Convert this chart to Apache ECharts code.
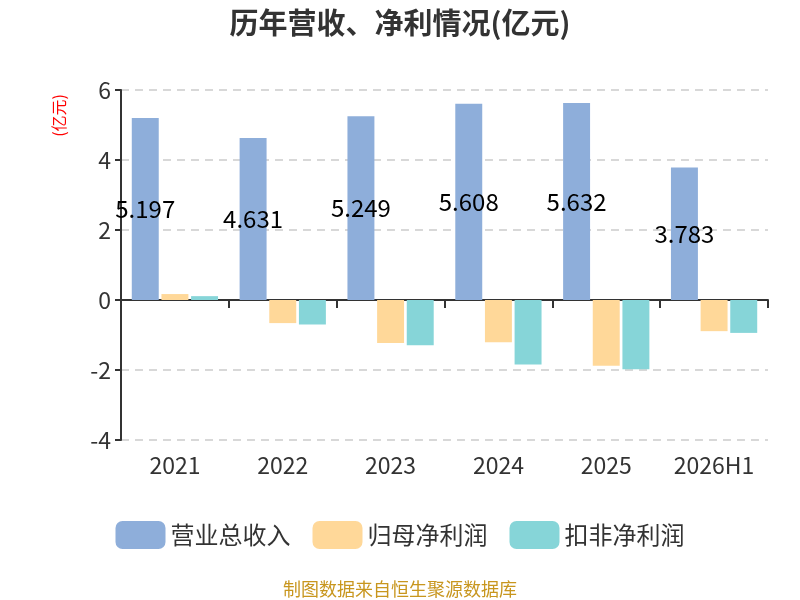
<!DOCTYPE html>
<html>
<head>
<meta charset="utf-8">
<script src="https://cdn.jsdelivr.net/npm/echarts@6/dist/echarts.min.js"></script>
<style>
  html, body { margin: 0; padding: 0; background: #fff; }
  #main { width: 800px; height: 600px; }
</style>
</head>
<body>
<div id="main"></div>
<script>
  let years = ['2021', '2022', '2023', '2024', '2025', '2026H1']
  let revenue = [5.197, 4.631, 5.249, 5.608, 5.632, 3.783]   // 营业总收入
  let netProfit = [0.17, -0.66, -1.23, -1.21, -1.88, -0.89]  // 归母净利润
  let deductProfit = [0.11, -0.70, -1.29, -1.84, -1.98, -0.94] // 扣非净利润
  let seriesNames = ['营业总收入', '归母净利润', '扣非净利润']
  let colors = ['#8EAEDA', '#FFD899', '#86D5D8']

  let chart = echarts.init(document.getElementById('main'))
  let font = '"Noto Sans CJK SC", "Noto Sans", sans-serif'

  let option = {
    backgroundColor: '#fff',
    color: colors,
    textStyle: { fontFamily: font },
    title: {
      text: '历年营收、净利情况(亿元)',
      left: 'center',
      top: 3,
      textStyle: { fontSize: 29, fontWeight: 'bold', color: '#333', fontFamily: font }
    },
    legend: {
      bottom: 46,
      left: 'center',
      itemWidth: 50,
      itemHeight: 28,
      itemGap: 22,
      icon: 'roundRect',
      textStyle: { fontSize: 24, color: '#333', fontFamily: font },
      data: seriesNames
    },
    grid: { left: 121, right: 32, top: 90, bottom: 160 },
    graphic: [
      {
        type: 'text',
        left: 51,
        top: 94,
        rotation: Math.PI / 2,
        style: { text: '(亿元)', fill: '#ff0000', fontSize: 16, fontFamily: font }
      },
      {
        type: 'text',
        left: 'center',
        bottom: 2,
        style: { text: '制图数据来自恒生聚源数据库', fill: '#C8961E', fontSize: 18, fontFamily: font }
      }
    ],
    xAxis: [
      {
        type: 'category',
        data: years,
        axisLine: { onZero: true, lineStyle: { color: '#333', width: 2 } },
        axisTick: { show: true, length: 8, lineStyle: { color: '#333', width: 2 } },
        axisLabel: { show: false }
      },
      {
        type: 'category',
        data: years,
        position: 'bottom',
        axisLine: { show: false },
        axisTick: { show: false },
        axisLabel: { fontSize: 23, color: '#333', margin: 14, fontFamily: font }
      }
    ],
    yAxis: {
      type: 'value',
      min: -4,
      max: 6,
      interval: 2,
      axisLine: { show: true, lineStyle: { color: '#333', width: 2 } },
      axisTick: { show: true, length: 6, lineStyle: { color: '#333', width: 2 } },
      axisLabel: { fontSize: 23, color: '#333', margin: 10, fontFamily: font },
      splitLine: { lineStyle: { type: [8, 6], color: '#ccc', width: 1.5 } }
    },
    series: [
      {
        name: seriesNames[0],
        type: 'bar',
        data: revenue,
        barGap: '10%',
        barCategoryGap: '20%',
        label: {
          show: true,
          position: 'inside',
          color: '#000',
          fontSize: 24,
          fontFamily: font
        }
      },
      {
        name: seriesNames[1],
        type: 'bar',
        data: netProfit,
        barGap: '10%',
        barCategoryGap: '20%'
      },
      {
        name: seriesNames[2],
        type: 'bar',
        data: deductProfit,
        barGap: '10%',
        barCategoryGap: '20%'
      }
    ]
  }

  chart.setOption(option)
  window.addEventListener('resize', function () {
    chart.resize()
  })
</script>
</body>
</html>
